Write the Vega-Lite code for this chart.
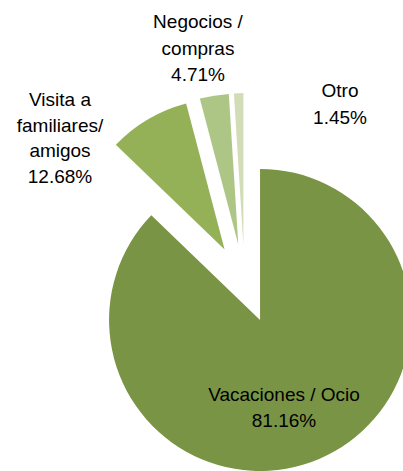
{
  "$schema": "https://vega.github.io/schema/vega-lite/v6.json",
  "width": 403,
  "height": 471,
  "padding": 0,
  "autosize": {"type": "none"},
  "background": "white",
  "config": {"view": {"stroke": null}},
  "data": {
    "values": [
      {"cat": "Vacaciones / Ocio", "pct": "81.16%", "share": 87.2, "order": 1, "lines": ["Vacaciones / Ocio", "81.16%"]},
      {"cat": "Visita a familiares/ amigos", "pct": "12.68%", "share": 8.7, "order": 2, "lines": ["Visita a", "familiares/", "amigos", "12.68%"]},
      {"cat": "Negocios / compras", "pct": "4.71%", "share": 3.1, "order": 3, "lines": ["Negocios /", "compras", "4.71%"]},
      {"cat": "Otro", "pct": "1.45%", "share": 1.0, "order": 4, "lines": ["Otro", "1.45%"]}
    ]
  },
  "transform": [
    {"stack": "share", "groupby": [], "sort": [{"field": "order", "order": "ascending"}], "as": ["t0", "t1"]},
    {"calculate": "(datum.t0 + datum.t1) / 100 * PI", "as": "mid"},
    {"calculate": "39.5 * sin(datum.mid)", "as": "ex"},
    {"calculate": "39.5 * cos(datum.mid)", "as": "ey"}
  ],
  "encoding": {
    "x": {"field": "ex", "type": "quantitative", "scale": {"domain": [-244.6, 158.4], "nice": false, "zero": false}, "axis": null},
    "y": {"field": "ey", "type": "quantitative", "scale": {"domain": [-187.4, 283.6], "nice": false, "zero": false}, "axis": null}
  },
  "layer": [
    {
      "mark": {"type": "arc", "radius": 151, "strokeWidth": 0},
      "encoding": {
        "theta": {"field": "t0", "type": "quantitative", "scale": {"domain": [0, 100]}},
        "theta2": {"field": "t1"},
        "color": {
          "field": "cat",
          "type": "nominal",
          "scale": {
            "domain": ["Vacaciones / Ocio", "Visita a familiares/ amigos", "Negocios / compras", "Otro"],
            "range": ["#7A9445", "#95B158", "#AEC685", "#D2DDB8"]
          },
          "legend": null
        }
      }
    },
    {
      "transform": [{"filter": "datum.order == 1"}],
      "mark": {"type": "text", "font": "Liberation Sans", "fontSize": 19, "lineHeight": 26, "color": "#000000", "align": "center", "baseline": "middle"},
      "encoding": {
        "x": {"datum": 39.4, "type": "quantitative"},
        "y": {"datum": -111.6, "type": "quantitative"},
        "text": {"field": "lines", "type": "nominal"}
      }
    },
    {
      "transform": [{"filter": "datum.order == 2"}],
      "mark": {"type": "text", "font": "Liberation Sans", "fontSize": 19, "lineHeight": 25.5, "color": "#000000", "align": "center", "baseline": "middle"},
      "encoding": {
        "x": {"datum": -184.6, "type": "quantitative"},
        "y": {"datum": 183.6, "type": "quantitative"},
        "text": {"field": "lines", "type": "nominal"}
      }
    },
    {
      "transform": [{"filter": "datum.order == 3"}],
      "mark": {"type": "text", "font": "Liberation Sans", "fontSize": 19, "lineHeight": 26.5, "color": "#000000", "align": "center", "baseline": "middle"},
      "encoding": {
        "x": {"datum": -46.6, "type": "quantitative"},
        "y": {"datum": 261.6, "type": "quantitative"},
        "text": {"field": "lines", "type": "nominal"}
      }
    },
    {
      "transform": [{"filter": "datum.order == 4"}],
      "mark": {"type": "text", "font": "Liberation Sans", "fontSize": 19, "lineHeight": 26.5, "color": "#000000", "align": "center", "baseline": "middle"},
      "encoding": {
        "x": {"datum": 95.4, "type": "quantitative"},
        "y": {"datum": 192.6, "type": "quantitative"},
        "text": {"field": "lines", "type": "nominal"}
      }
    }
  ]
}
